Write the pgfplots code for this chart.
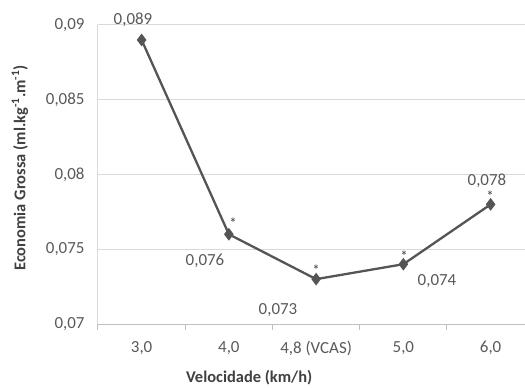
\documentclass[border=0pt]{standalone}
\usepackage{pgfplots}
\pgfplotsset{compat=1.18}
\usepackage{fontspec}
\setmainfont{Carlito}
\definecolor{txt}{RGB}{89,89,89}
\definecolor{ttl}{RGB}{64,64,64}
\definecolor{ln}{RGB}{85,85,85}
\definecolor{grd}{RGB}{217,217,217}
\definecolor{axl}{RGB}{191,191,191}
\begin{document}
\begin{tikzpicture}
\begin{axis}[
  name=ax, at={(0,0)}, anchor=south west,
  scale only axis, width=427bp, height=299bp,
  xmin=-0.5, xmax=4.394, ymin=0.07, ymax=0.09,
  scaled y ticks=false,
  axis lines*=left,
  x axis line style={color=axl, line width=1bp},
  y axis line style={color=grd, line width=1bp},
  xtick={0,1,2,3,4},
  xticklabels={{3,0},{4,0},{4,8 (VCAS)},{5,0},{6,0}},
  minor xtick={-0.5,0.5,1.5,2.5,3.5},
  ytick={0.07,0.075,0.08,0.085,0.09},
  yticklabels={{0,07},{0,075},{0,08},{0,085},{0,09}},
  major tick length=0pt, minor tick length=6bp,
  tick align=outside,
  minor tick style={color=axl, line width=1bp},
  ymajorgrids, major grid style={color=grd, line width=1bp},
  tick label style={font=\fontsize{17}{20}\selectfont, text=txt},
  xticklabel shift=14bp, yticklabel shift=10bp,
  xlabel={Velocidade (km/h)},
  ylabel={Economia Grossa (ml.kg\textsuperscript{-1}.m\textsuperscript{-1})},
  label style={font=\bfseries\fontsize{16.5}{19}\selectfont, text=ttl},
  xlabel style={at={(axis description cs:0.354,-0.18)}, anchor=center},
  ylabel style={at={(axis description cs:-0.183,0.522)}, anchor=center},
  clip=false,
]
\addplot[color=ln, line width=2.3bp, mark=diamond*, mark size=4.5bp, mark options={solid, fill=ln}]
  coordinates {(0,0.089) (1,0.076) (2,0.073) (3,0.074) (4,0.078)};
\begin{scope}[every node/.style={font=\fontsize{17}{20}\selectfont, text=txt}]
\node at (axis cs:-0.099,0.09033) {0,089};
\node at (axis cs:0.726,0.074214) {0,076};
\node at (axis cs:1.563,0.070936) {0,073};
\node at (axis cs:3.385,0.072876) {0,074};
\node at (axis cs:3.958,0.079565) {0,078};
\end{scope}
\begin{scope}[every node/.style={font=\fontsize{15}{17}\selectfont, text=ttl, yshift=-3bp}]
\node at (axis cs:1.047,0.076957) {*};
\node at (axis cs:1.999,0.073813) {*};
\node at (axis cs:3.007,0.074749) {*};
\node at (axis cs:3.993,0.078763) {*};
\end{scope}
\end{axis}
\pgfresetboundingbox
\useasboundingbox (-98bp,-64bp) rectangle (427bp,324bp);
\end{tikzpicture}
\end{document}
